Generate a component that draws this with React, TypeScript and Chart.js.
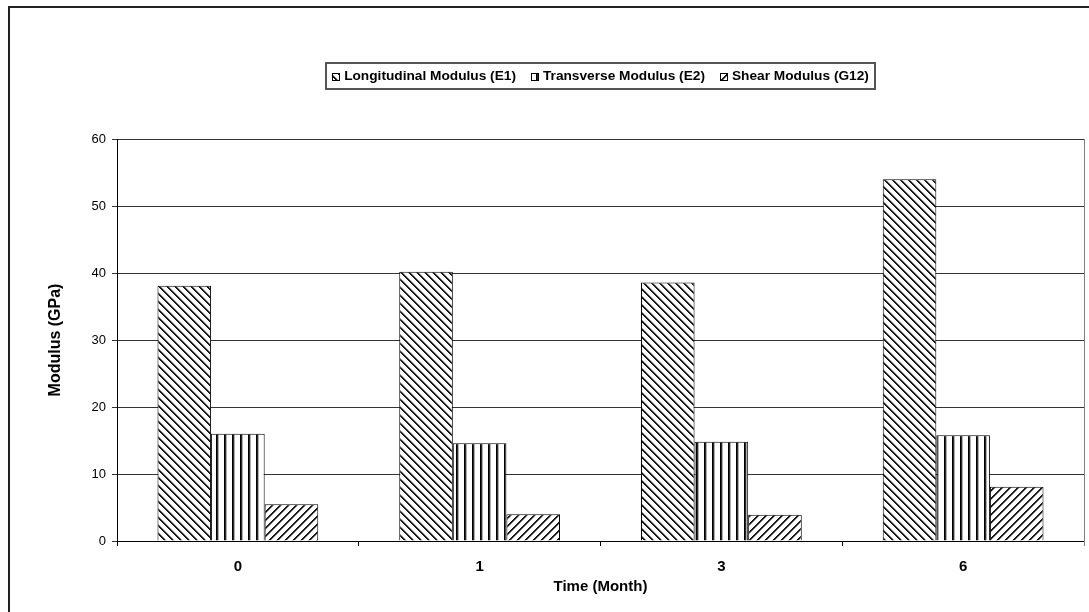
import React, { useEffect, useRef } from "react";
import { Chart, registerables } from "chart.js";

Chart.register(...registerables);

const categories = ["0", "1", "3", "6"];
const seriesNames = [
  "Longitudinal Modulus (E1)",
  "Transverse Modulus (E2)",
  "Shear Modulus (G12)",
];
const e1Values = [38.1, 40.2, 38.6, 54.0];
const e2Values = [16.0, 14.6, 14.8, 15.8];
const g12Values = [5.5, 4.0, 3.9, 8.1];
const yTicks = [0, 10, 20, 30, 40, 50, 60];
const xTitle = "Time (Month)";
const yTitle = "Modulus (GPa)";

const FONT = "Arial, 'Liberation Sans', sans-serif";

function makePattern(ctx: CanvasRenderingContext2D, kind: string) {
  const c = document.createElement("canvas");
  c.width = 8;
  c.height = 8;
  const g = c.getContext("2d") as CanvasRenderingContext2D;
  g.fillStyle = "#ffffff";
  g.fillRect(0, 0, 8, 8);
  for (let y = 0; y < 8; y++) {
    for (let x = 0; x < 8; x++) {
      let d = 0;
      if (kind === "down") d = (x - y + 16) % 8;
      else if (kind === "up") d = (x + y) % 8;
      else d = x % 8;
      let col = "";
      if (kind === "vert") {
        if (d === 0) col = "#000000";
        else if (d === 1) col = "#2a2a2a";
        else if (d === 2) col = "#b0b0b0";
      } else {
        if (d === 0 || d === 1) col = "#1a1a1a";
        else if (d === 2) col = "#9a9a9a";
      }
      if (col) {
        g.fillStyle = col;
        g.fillRect(x, y, 1, 1);
      }
    }
  }
  return ctx.createPattern(c, "repeat") as CanvasPattern;
}

export default function App() {
  const ref = useRef<HTMLCanvasElement | null>(null);

  useEffect(() => {
    const canvas = ref.current;
    if (!canvas) return;
    const ctx0 = canvas.getContext("2d") as CanvasRenderingContext2D;
    const patterns = [
      makePattern(ctx0, "down"),
      makePattern(ctx0, "vert"),
      makePattern(ctx0, "up"),
    ];
    const values = [e1Values, e2Values, g12Values];

    const framePlugin = {
      id: "frameAndLegend",
      beforeDraw(chart: any) {
        const ctx = chart.ctx;
        ctx.save();
        ctx.fillStyle = "#ffffff";
        ctx.fillRect(0, 0, chart.width, chart.height);
        ctx.restore();
      },
      afterDraw(chart: any) {
        const ctx = chart.ctx as CanvasRenderingContext2D;
        const area = chart.chartArea;
        ctx.save();
        // outer frame (left and top)
        ctx.fillStyle = "#222222";
        ctx.fillRect(8, 6, chart.width - 8, 2);
        ctx.fillRect(8, 6, 2, chart.height - 6);
        // plot area right border
        ctx.strokeStyle = "#808080";
        ctx.lineWidth = 1;
        ctx.beginPath();
        ctx.moveTo(Math.round(area.right) + 0.5, area.top);
        ctx.lineTo(Math.round(area.right) + 0.5, area.bottom + 5);
        ctx.stroke();

        // legend
        ctx.font = "bold 13.7px " + FONT;
        const iconW = 7;
        const iconGap = 5;
        const itemGap = 15;
        const padX = 6;
        const widths = seriesNames.map((n) => ctx.measureText(n).width);
        const total =
          widths.reduce((a, b) => a + b, 0) +
          seriesNames.length * (iconW + iconGap) +
          (seriesNames.length - 1) * itemGap;
        const cx = (area.left + area.right) / 2;
        let x = cx - total / 2;
        const top = 63;
        const bottom = 89;
        const midY = 76.5;
        ctx.strokeStyle = "#555555";
        ctx.lineWidth = 2;
        ctx.strokeRect(Math.round(x - padX), top, Math.round(total + 2 * padX), bottom - top);
        ctx.textBaseline = "middle";
        ctx.textAlign = "left";
        seriesNames.forEach((name, i) => {
          const ix = Math.round(x);
          const iy = Math.round(midY - iconW / 2);
          ctx.fillStyle = patterns[i];
          ctx.fillRect(ix, iy, iconW, iconW);
          ctx.strokeStyle = "#000000";
          ctx.lineWidth = 1;
          ctx.strokeRect(ix + 0.5, iy + 0.5, iconW, iconW);
          ctx.fillStyle = "#000000";
          ctx.fillText(name, x + iconW + iconGap, midY);
          x += iconW + iconGap + widths[i] + itemGap;
        });
        ctx.restore();
      },
    };

    const chart = new Chart(canvas, {
      type: "bar",
      data: {
        labels: categories,
        datasets: seriesNames.map((name, i) => ({
          label: name,
          data: values[i],
          backgroundColor: patterns[i],
          borderColor: "#000000",
          borderWidth: 1,
          categoryPercentage: 0.665,
          barPercentage: 1.0,
        })),
      },
      options: {
        responsive: false,
        animation: false,
        layout: { padding: { left: 0, right: 5, top: 139, bottom: 0 } },
        plugins: {
          legend: { display: false },
          tooltip: { enabled: false },
          title: { display: false },
        },
        scales: {
          x: {
            offset: true,
            grid: {
              display: true,
              drawOnChartArea: false,
              drawTicks: true,
              tickLength: 5,
              color: "#000000",
              offset: true,
            },
            border: { display: true, color: "#000000", width: 1 },
            ticks: {
              color: "#000000",
              font: { family: FONT, size: 15, weight: "bold" },
              padding: 12,
              maxRotation: 0,
            },
            title: {
              display: true,
              text: xTitle,
              color: "#000000",
              font: { family: FONT, size: 15, weight: "bold" },
              padding: { top: 0, bottom: 16 },
            },
            afterFit(scale: any) {
              scale.height = 71;
            },
          },
          y: {
            min: 0,
            max: 60,
            ticks: {
              stepSize: 10,
              color: "#000000",
              font: { family: FONT, size: 13 },
              padding: 6,
            },
            afterBuildTicks(scale: any) {
              scale.ticks = yTicks.map((v) => ({ value: v }));
            },
            grid: {
              color: "#333333",
              lineWidth: 1,
              drawTicks: true,
              tickLength: 5,
            },
            border: { display: true, color: "#000000", width: 1 },
            title: {
              display: true,
              text: yTitle,
              color: "#000000",
              font: { family: FONT, size: 16, weight: "bold" },
              padding: { top: 46, bottom: 0 },
            },
            afterFit(scale: any) {
              scale.width = 117;
            },
          },
        },
      },
      plugins: [framePlugin],
    } as any);

    return () => {
      chart.destroy();
    };
  }, []);

  return (
    <div style={{ position: "fixed", left: 0, top: 0, width: 1089, height: 612, background: "#fff" }}>
      <canvas ref={ref} width={1089} height={612} style={{ display: "block", width: 1089, height: 612 }} />
    </div>
  );
}
